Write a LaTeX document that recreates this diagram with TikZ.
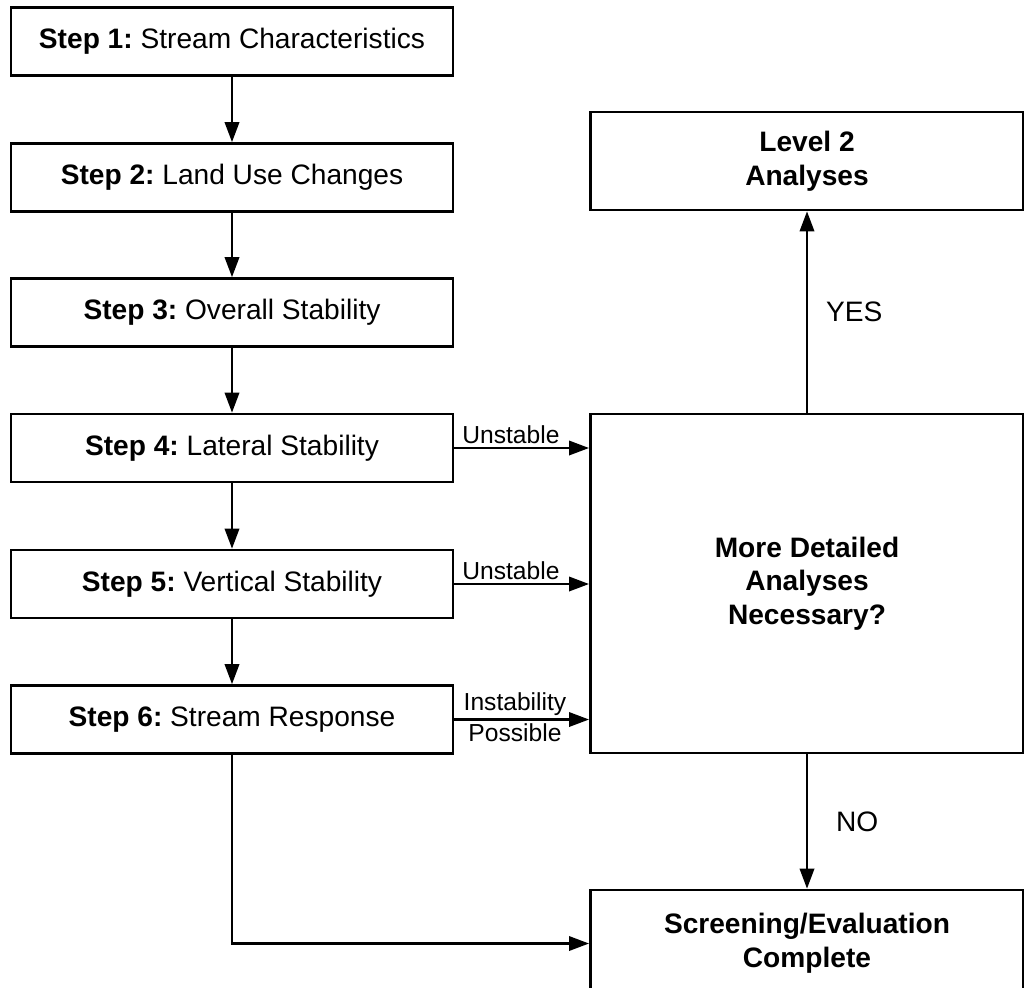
\documentclass[tikz,border=0pt]{standalone}
\usepackage{fontspec}
\setmainfont{Liberation Sans}
\frenchspacing
\usetikzlibrary{arrows.meta}
\tikzset{
  box/.style={draw,line width=1.9pt,align=center,inner sep=0pt,
    font=\fontsize{20}{24}\selectfont},
  stepbox/.style={box,minimum width=11.05cm,minimum height=1.7cm},
  bigbox/.style={box,minimum width=10.83cm},
  arr/.style={line width=1.6pt,-{Triangle[length=0.5cm,width=0.36cm]}},
  lbl/.style={font=\fontsize{17.5}{21}\selectfont,inner sep=2pt},
  yn/.style={font=\fontsize{20}{24}\selectfont,anchor=west,inner sep=0pt}
}
\newcommand{\stepnode}[4]{
\node [stepbox] (#1) at (232,#2) {\textbf{Step #3:} #4};
}

\begin{document}
\begin{tikzpicture}[x=0.025cm,y=-0.025cm]
\useasboundingbox (0,0) rectangle (1024,987);
% left column
\stepnode{s1}{41.5}{1}{Stream Characteristics}
\stepnode{s2}{177.5}{2}{Land Use Changes}
\stepnode{s3}{312.5}{3}{Overall Stability}
\stepnode{s4}{448}{4}{Lateral Stability}
\stepnode{s5}{584}{5}{Vertical Stability}
\stepnode{s6}{719.5}{6}{Stream Response}
% right column
\node [bigbox,minimum height=2.45cm] (lvl) at (807,161) {\textbf{Level 2}\\\textbf{Analyses}};
\node [bigbox,minimum height=8.475cm] (more) at (807,583.5)
  {\textbf{More Detailed}\\\textbf{Analyses}\\\textbf{Necessary?}};
\node [bigbox,minimum height=2.675cm] (done) at (807,943.5)
  {\textbf{Screening/Evaluation}\\\textbf{Complete}};

\foreach \a/\b in {s1/s2,s2/s3,s3/s4,s4/s5,s5/s6}
  \draw [arr] (\a.south) -- (\b.north);

\draw [arr] (s4.east) -- node [lbl,pos=0.42,above] (u4) {Unstable} (s4.east -| more.west);
\draw [arr] (s5.east) -- node [lbl,pos=0.42,above] (u5) {Unstable} (s5.east -| more.west);
\draw [arr] (s6.east) -- node [lbl,pos=0.45,above] (i6) {Instability}
  node [lbl,pos=0.45,below] (p6) {Possible} (s6.east -| more.west);

\draw [arr] (more.north) -- node [yn,xshift=0.45cm] (yes) {YES} (lvl.south);
\draw [arr] (more.south) -- node [yn,xshift=0.7cm] (no) {NO} (done.north);
\draw [arr] (s6.south) |- (done.west);
\end{tikzpicture}
\end{document}
